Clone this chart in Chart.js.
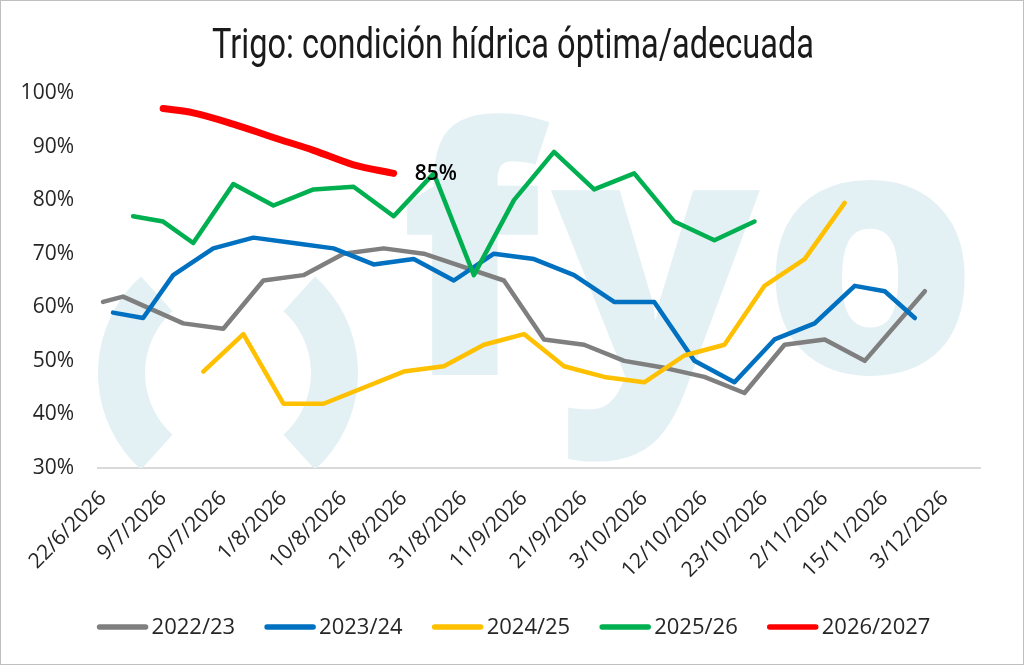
<!DOCTYPE html>
<html>
<head>
<meta charset="utf-8">
<script src="https://cdn.jsdelivr.net/npm/chart.js@4.4.1/dist/chart.umd.min.js"></script>
<style>
html,body{margin:0;padding:0;background:#fff;}
canvas{display:block;}
</style>
</head>
<body>
<canvas id="c" width="1024" height="665"></canvas>
<script>
// ---------- DATA ----------
const chartTitle = 'Trigo: condición hídrica óptima/adecuada';
const tickLabels = ['22/6/2026','9/7/2026','20/7/2026','1/8/2026','10/8/2026','21/8/2026','31/8/2026',
  '11/9/2026','21/9/2026','3/10/2026','12/10/2026','23/10/2026','2/11/2026','15/11/2026','3/12/2026'];
const categoryCount = 88;   // number of category slots on the x axis
const labelEvery = 6;       // one visible tick label every 6 categories
const seriesNames = ['2022/23','2023/24','2024/25','2025/26','2026/2027'];
// [category index, % value]
const s2022_23 = [[0,61],[2,62],[8,57],[12,56],[16,65],[20,66],[24,70],[28,71],[32,70],[40,65],[44,54],
  [48,53],[52,50],[56,48.7],[60,47],[64,44],[68,53],[72,54],[76,50],[82,63]];
const s2023_24 = [[1,59],[4,58],[7,66],[11,71],[15,73],[19,72],[23,71],[27,68],[31,69],[35,65],[39,70],
  [43,69],[47,66],[51,61],[55,61],[59,50],[63,46],[67,54],[71,57],[75,64],[78,63],[81,58]];
const s2024_25 = [[10,48],[14,55],[18,42],[22,42],[30,48],[34,49],[38,53],[42,55],[46,49],[50,47],
  [54,46],[58,51],[62,53],[66,64],[70,69],[74,79.5]];
const s2025_26 = [[3,77],[6,76],[9,72],[13,83],[17,79],[21,82],[25,82.5],[29,77],[33,85],[37,66],
  [41,80],[45,89],[49,82],[53,85],[57,76],[61,72.5],[65,76]];
const s2026_27 = [[6,97.1],[9,96.3],[13,94.2],[17,91.7],[21,89.3],[25,86.6],[29,85]];
const seriesColors = ['#7f7f7f','#0070c0','#ffc000','#00b050','#ff0000'];
// ---------------------------

const categories = Array.from({length: categoryCount}, (_, i) => i % labelEvery === 0 ? tickLabels[i / labelEvery] : '');
function toArray(pairs){
  const arr = new Array(categoryCount).fill(null);
  pairs.forEach(([i, v]) => { arr[i] = v; });
  return arr;
}
const allSeries = [s2022_23, s2023_24, s2024_25, s2025_26, s2026_27];

const FONT = '"Open Sans", "DejaVu Sans", sans-serif';
const TEXT = '#262626';

const datasets = allSeries.map((s, k) => ({
  label: seriesNames[k],
  data: toArray(s),
  borderColor: seriesColors[k],
  backgroundColor: seriesColors[k],
  borderWidth: k === 4 ? 7 : 4.5,
  pointRadius: 0,
  pointHoverRadius: 0,
  spanGaps: true,
  tension: 0,
  cubicInterpolationMode: k === 4 ? 'monotone' : 'default',
  borderCapStyle: 'round',
  borderJoinStyle: 'round',
  order: 5 - k,
  fill: false
}));

const background = {
  id: 'background',
  beforeDraw(chart){
    const ctx = chart.ctx;
    ctx.save();
    ctx.fillStyle = '#ffffff';
    ctx.fillRect(0, 0, chart.width, chart.height);
    ctx.restore();
  }
};

const watermark = {
  id: 'watermark',
  beforeDatasetsDraw(chart){
    const {ctx, chartArea: a} = chart;
    ctx.save();
    ctx.beginPath();
    ctx.rect(a.left, a.top, a.right - a.left, a.bottom - a.top);
    ctx.clip();
    const col = '#e3f0f4';
    ctx.fillStyle = col; ctx.strokeStyle = col;
    // parenthesis ring
    const cx = 228, cy = 373, r = 106.5, d = Math.PI / 180;
    ctx.lineWidth = 47; ctx.lineCap = 'butt';
    ctx.beginPath(); ctx.arc(cx, cy, r, 132 * d, 228 * d); ctx.stroke();
    ctx.beginPath(); ctx.arc(cx, cy, r, -48 * d, 48 * d); ctx.stroke();
    // letters
    const fam = '"Open Sans"';
    ctx.font = '800 100px ' + fam;
    const mo = ctx.measureText('o');
    const size = 100 * 195 / (mo.actualBoundingBoxAscent + mo.actualBoundingBoxDescent);
    ctx.font = '800 ' + size.toFixed(1) + 'px ' + fam;
    ctx.textAlign = 'left'; ctx.textBaseline = 'alphabetic';
    const place = (ch, left, bottom) => {
      const m = ctx.measureText(ch);
      ctx.fillText(ch, left + m.actualBoundingBoxLeft, bottom - m.actualBoundingBoxDescent);
    };
    place('f', 405, 375);
    place('o', 772, 378);
    const my = ctx.measureText('y');
    ctx.fillText('y', 765 - my.actualBoundingBoxRight, 187 + my.actualBoundingBoxAscent);
    ctx.restore();
  }
};

const decorations = {
  id: 'decorations',
  afterDraw(chart){
    const ctx = chart.ctx;
    ctx.save();
    // title
    ctx.font = '400 42px Roboto, "Open Sans", sans-serif';
    const tw = ctx.measureText(chartTitle).width;
    ctx.translate(513, 58);
    ctx.scale(602 / tw, 1);
    ctx.fillStyle = '#1a1a1a';
    ctx.textAlign = 'center';
    ctx.textBaseline = 'alphabetic';
    ctx.fillText(chartTitle, 0, 0);
    ctx.restore();

    // last-value label of 2026/2027
    const meta = chart.getDatasetMeta(4);
    const data = chart.data.datasets[4].data;
    let last = -1;
    data.forEach((v, i) => { if (v !== null) last = i; });
    if (last >= 0) {
      const pt = meta.data[last];
      ctx.save();
      ctx.font = '600 21px ' + FONT;
      ctx.fillStyle = '#000';
      ctx.textAlign = 'left';
      ctx.textBaseline = 'middle';
      ctx.fillText(Math.round(data[last]) + '%', pt.x + 21, pt.y + 1);
      ctx.restore();
    }

    // legend
    ctx.save();
    ctx.font = '400 22px ' + FONT;
    const sample = 50, gap = 4, itemGap = 30;
    const widths = seriesNames.map(n => ctx.measureText(n).width);
    const total = widths.reduce((s, w) => s + sample + gap + w, 0) + itemGap * (seriesNames.length - 1);
    let x = 514 - total / 2;
    const y = 627;
    seriesNames.forEach((n, k) => {
      ctx.strokeStyle = seriesColors[k];
      ctx.lineWidth = 5.5;
      ctx.lineCap = 'round';
      ctx.beginPath();
      ctx.moveTo(x + 2, y); ctx.lineTo(x + sample - 2, y);
      ctx.stroke();
      ctx.fillStyle = TEXT;
      ctx.textAlign = 'left';
      ctx.textBaseline = 'middle';
      ctx.fillText(n, x + sample + gap, y + 1);
      x += sample + gap + widths[k] + itemGap;
    });
    ctx.restore();

    // outer border
    ctx.save();
    ctx.strokeStyle = '#bfbfbf';
    ctx.lineWidth = 1;
    ctx.strokeRect(0.5, 0.5, chart.width - 1, chart.height - 1);
    ctx.restore();
  }
};

new Chart(document.getElementById('c'), {
  type: 'line',
  data: { labels: categories, datasets },
  options: {
    responsive: false,
    animation: false,
    events: [],
    layout: { padding: { top: 93, right: 44, bottom: 0, left: 0 } },
    plugins: {
      legend: { display: false },
      title: { display: false },
      tooltip: { enabled: false }
    },
    scales: {
      x: {
        type: 'category',
        offset: true,
        grid: { display: false, drawTicks: false },
        border: { display: true, color: '#d9d9d9', width: 2 },
        ticks: {
          autoSkip: false,
          minRotation: 45,
          maxRotation: 45,
          padding: 18,
          color: TEXT,
          font: { family: FONT, size: 21 }
        },
        afterFit(scale){ scale.height = 197; }
      },
      y: {
        min: 30,
        max: 100,
        grid: { display: false, drawTicks: false },
        border: { display: false },
        ticks: {
          stepSize: 10,
          padding: 24,
          color: TEXT,
          font: { family: FONT, size: 21 },
          callback: v => v + '%'
        },
        afterFit(scale){ scale.width = 98; }
      }
    }
  },
  plugins: [background, watermark, decorations]
});
</script>
</body>
</html>
